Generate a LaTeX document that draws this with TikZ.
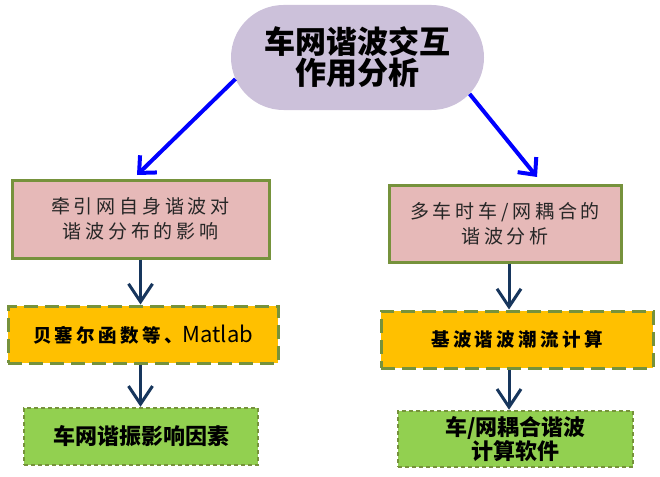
\documentclass[tikz,border=0pt]{standalone}
\usepackage{fontspec}
\setmainfont{Noto Sans CJK SC}
\newfontfamily\cjk{Noto Sans CJK SC}
\newfontfamily\cjksp[LetterSpace=20]{Noto Sans CJK SC}
\newfontfamily\cjkspo[LetterSpace=18]{Noto Sans CJK SC}
\usetikzlibrary{arrows.meta,shapes.misc}
\definecolor{olivec}{HTML}{76923C}
\definecolor{pinkc}{HTML}{E6B9B8}
\definecolor{orangec}{HTML}{FFC000}
\definecolor{greenc}{HTML}{92D050}
\definecolor{lavc}{HTML}{CCC1DA}
\definecolor{navyc}{HTML}{17365D}
\definecolor{bluec}{HTML}{0000FF}
\tikzset{
  pinkbox/.style={draw=olivec, line width=3pt, fill=pinkc, inner sep=0pt, align=center, text=black!85, font=\cjksp\fontsize{19}{25}\selectfont},
  orangebox/.style={draw=olivec, line width=3pt, dash pattern=on 14pt off 7pt, fill=orangec, inner sep=0pt, align=center, font=\cjkspo\bfseries\fontsize{18.5}{24}\selectfont},
  greenbox/.style={draw=olivec, line width=2.5pt, dash pattern=on 4pt off 3pt, fill=greenc, inner sep=0pt, align=center, font=\cjk\bfseries\fontsize{22}{24}\selectfont},
  topbox/.style={rounded rectangle, fill=lavc, inner sep=0pt, align=center, font=\cjk\bfseries\fontsize{31}{31}\selectfont},
  bluearrow/.style={draw=bluec, line width=4pt, -{Straight Barb[length=13pt,width=24pt]}},
  navyarrow/.style={draw=navyc, line width=3pt, -{Straight Barb[length=18pt,width=24pt]}},
}
\begin{document}
\begin{tikzpicture}[x=1pt,y=-1pt]
\useasboundingbox (0,0) rectangle (660,476);
\node[topbox, minimum width=253pt, minimum height=105pt] (top) at (357.5,57.5) {车网谐波交互\\作用分析};
\node[pinkbox, minimum width=257pt, minimum height=78pt] (lp) at (140.5,219) {牵引网自身谐波对\\谐波分布的影响};
\node[pinkbox, minimum width=232pt, minimum height=77pt] (rp) at (505,223.5) {多车时车/网耦合的\\谐波分析};
\node[orangebox, minimum width=270pt, minimum height=57pt] (lo) at (143,334.5) {贝塞尔函数等、{\cjk\mdseries\fontsize{22}{24}\selectfont Matlab}};
\node[orangebox, minimum width=272pt, minimum height=57pt] (ro) at (517,339.5) {基波谐波潮流计算};
\node[greenbox, minimum width=234pt, minimum height=57pt] (lg) at (141,436.5) {车网谐振影响因素};
\node[greenbox, minimum width=235pt, minimum height=56pt] (rg) at (515.5,439) {车/网耦合谐波\\计算软件};
\coordinate (la) at (137,175);
\coordinate (ra) at (537,177);
\draw[bluearrow] (top.190) -- (la);
\draw[bluearrow] (top.342) -- (ra);
\draw[navyarrow] (lp.south) -- (lp.south |- lo.north);
\draw[navyarrow] (lo.south -| lp.south) -- (lp.south |- lg.north);
\draw[navyarrow] ([xshift=4pt]rp.south) -- ([xshift=4pt]rp.south |- ro.north);
\draw[navyarrow] ([xshift=4pt]rp.south |- ro.south) -- ([xshift=4pt]rp.south |- rg.north);
\end{tikzpicture}
\end{document}
